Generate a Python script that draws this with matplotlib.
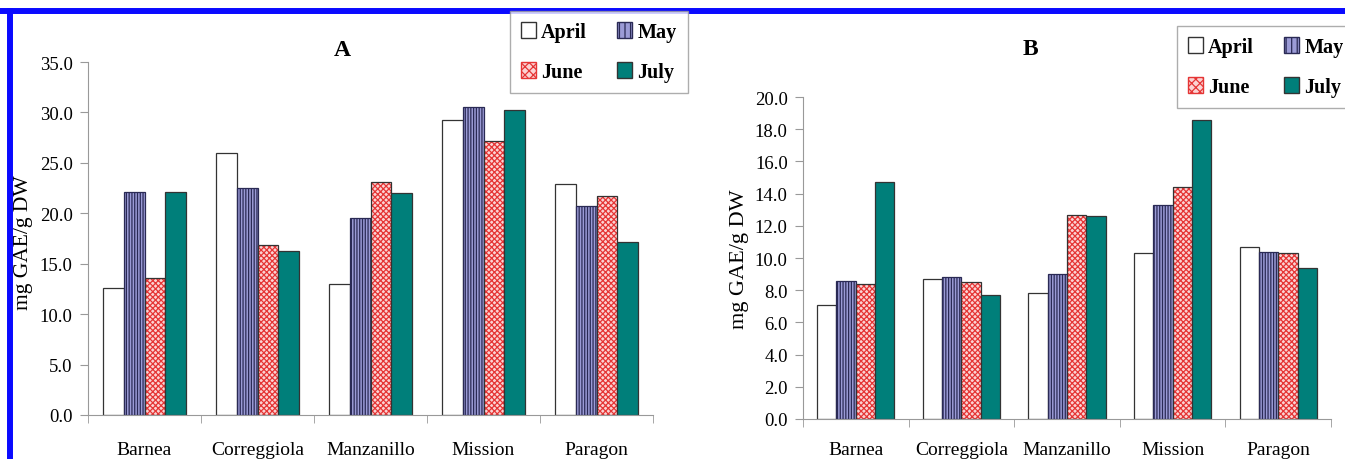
import matplotlib
matplotlib.use("Agg")
import matplotlib.pyplot as plt
import numpy as np
from matplotlib.patches import Patch
from matplotlib.lines import Line2D

cultivars = ["Barnea", "Correggiola", "Manzanillo", "Mission", "Paragon"]
months = ["April", "May", "June", "July"]

# panel A
a_april = [12.6, 26.0, 13.0, 29.2, 22.9]
a_may = [22.1, 22.5, 19.5, 30.5, 20.7]
a_june = [13.6, 16.9, 23.1, 27.2, 21.7]
a_july = [22.1, 16.3, 22.0, 30.2, 17.2]

# panel B
b_april = [7.1, 8.7, 7.8, 10.3, 10.7]
b_may = [8.6, 8.8, 9.0, 13.3, 10.4]
b_june = [8.4, 8.5, 12.7, 14.4, 10.3]
b_july = [14.7, 7.7, 12.6, 18.6, 9.4]

plt.rcParams["font.family"] = ["Liberation Serif", "DejaVu Serif"]
plt.rcParams["hatch.linewidth"] = 0.9

W, H = 1345, 460
fig = plt.figure(figsize=(W / 100, H / 100), dpi=100)

MAY_C = "#9b9bd6"
JUNE_C = "#e53535"
JULY_C = "#007f7a"
EDGE = "#333333"


def px_axes(x0, y0, x1, y1):
    # pixel box (top-left origin) -> figure axes
    return fig.add_axes([x0 / W, (H - y1) / H, (x1 - x0) / W, (y1 - y0) / H])


def draw_panel(ax, series, ymax, ystep, ylab_size, xpad):
    x = np.arange(len(cultivars))
    w = 0.183
    offs = (np.arange(4) - 1.5) * w
    april, may, june, july = series
    ax.bar(x + offs[0], april, w, color="white", edgecolor=EDGE, linewidth=0.9)
    ax.bar(x + offs[1], may, w, color=MAY_C, edgecolor="#2a2a55", hatch="||||||", linewidth=0.9)
    ax.bar(x + offs[2], june, w, color="#fbd3d3", edgecolor=JUNE_C, hatch="xxxxxx", linewidth=0)
    ax.bar(x + offs[2], june, w, fill=False, edgecolor=EDGE, linewidth=0.9)
    ax.bar(x + offs[3], july, w, color=JULY_C, edgecolor=EDGE, linewidth=0.9)

    ax.set_xlim(-0.5, len(cultivars) - 0.5)
    ax.set_ylim(0, ymax)
    ticks = np.arange(0, ymax + 0.01, ystep)
    ax.set_yticks(ticks)
    ax.set_yticklabels([f"{v:.1f}" for v in ticks], fontsize=13.5)
    ax.set_xticks(x)
    ax.set_xticklabels(cultivars, fontsize=14)
    ax.set_xticks(np.arange(-0.5, len(cultivars)), minor=True)
    ax.tick_params(axis="x", which="major", length=0, pad=xpad)
    ax.tick_params(axis="x", which="minor", length=6, color="#999999")
    ax.tick_params(axis="y", length=6, color="#999999", pad=5)
    for s in ["top", "right"]:
        ax.spines[s].set_visible(False)
    for s in ["left", "bottom"]:
        ax.spines[s].set_color("#999999")
    ax.set_ylabel("mg GAE/g DW", fontsize=ylab_size)


axA = px_axes(88, 63, 653, 416)
draw_panel(axA, [a_april, a_may, a_june, a_july], 35, 5, 15.5, 19)
axA.yaxis.set_label_coords(-0.098, 0.49)
axA.text(0.45, 1.035, "A", transform=axA.transAxes, ha="center", va="center",
         fontsize=17, fontweight="bold")

axB = px_axes(803, 98, 1331, 420)
draw_panel(axB, [b_april, b_may, b_june, b_july], 20, 2, 16, 16)
axB.yaxis.set_label_coords(-0.102, 0.5)
axB.text(0.43, 1.15, "B", transform=axB.transAxes, ha="center", va="center",
         fontsize=17, fontweight="bold")

handles = [
    Patch(facecolor="white", edgecolor=EDGE),
    Patch(facecolor="#fbd3d3", edgecolor=JUNE_C, hatch="xxxx"),
    Patch(facecolor=MAY_C, edgecolor="#2a2a55", hatch="|||"),
    Patch(facecolor=JULY_C, edgecolor=EDGE),
]
labels = ["April", "June", "May", "July"]
leg_kw = dict(ncol=2, prop={"weight": "bold", "size": 14.5}, frameon=True, fancybox=False,
              edgecolor="#999999", handlelength=0.75, handleheight=0.85, handletextpad=0.25,
              columnspacing=1.5, labelspacing=1.0, borderpad=0.55, borderaxespad=0)
legA = fig.legend(handles, labels, loc="upper left", bbox_to_anchor=(510 / W, 1 - 12 / H), **leg_kw)
legB = fig.legend(handles, labels, loc="upper left", bbox_to_anchor=(1177 / W, 1 - 27 / H), **leg_kw)
legA.get_frame().set_linewidth(1.0)
legB.get_frame().set_linewidth(1.0)

# blue frame of the screenshot
fig.add_artist(Line2D([0, 1], [1 - 12 / H, 1 - 12 / H], color="#0a0aff", lw=4.3))
fig.add_artist(Line2D([9.5 / W, 9.5 / W], [0, 1 - 12 / H], color="#0a0aff", lw=4.3))

fig.savefig("out.png", dpi=100)
